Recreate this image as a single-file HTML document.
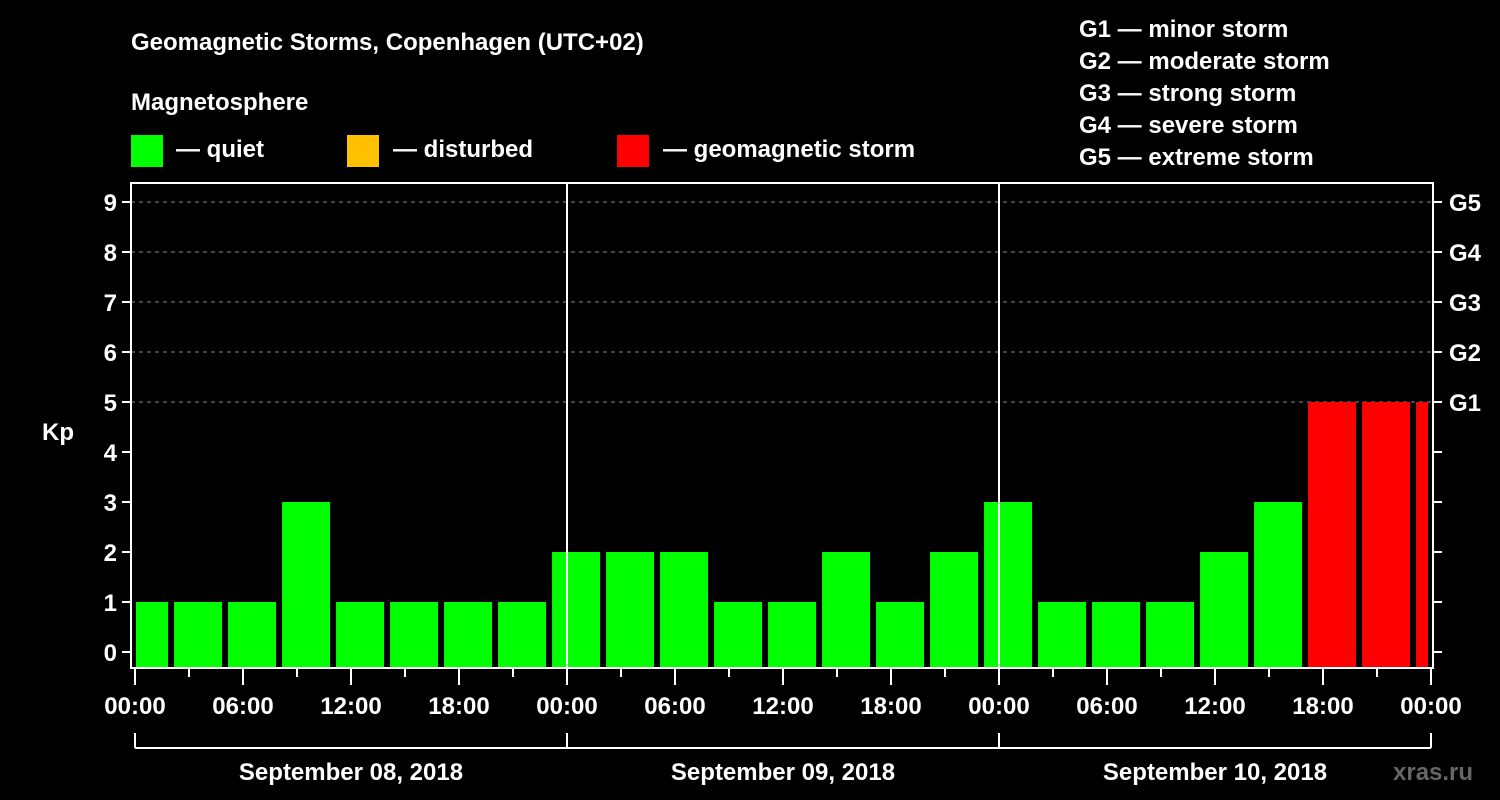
<!DOCTYPE html>
<html><head><meta charset="utf-8"><style>
body{margin:0;background:#000;}
svg{display:block;font-family:"Liberation Sans",sans-serif;font-weight:bold;}
</style></head><body>
<svg id="chart" width="1500" height="800" viewBox="0 0 1500 800">
<rect width="1500" height="800" fill="#000"/>
<text x="131" y="50" fill="#fff" font-size="24">Geomagnetic Storms, Copenhagen (UTC+02)</text>
<text x="131" y="110" fill="#fff" font-size="24">Magnetosphere</text>
<g><rect x="131" y="135" width="32" height="32" fill="#00ff00"/><text x="176" y="157" fill="#fff" font-size="24">— quiet</text></g>
<g><rect x="347" y="135" width="32" height="32" fill="#ffc000"/><text x="393" y="157" fill="#fff" font-size="24">— disturbed</text></g>
<g><rect x="617" y="135" width="32" height="32" fill="#ff0000"/><text x="663" y="157" fill="#fff" font-size="24">— geomagnetic storm</text></g>
<g fill="#fff" font-size="24">
<text x="1079" y="37">G1 — minor storm</text>
<text x="1079" y="69">G2 — moderate storm</text>
<text x="1079" y="101">G3 — strong storm</text>
<text x="1079" y="133">G4 — severe storm</text>
<text x="1079" y="165">G5 — extreme storm</text>
</g>
<text x="42" y="440" fill="#fff" font-size="24">Kp</text>
<text x="1393" y="780" fill="#666" font-size="24">xras.ru</text>
<g id="grid"></g><g id="bars"></g><g id="axes"></g>
</svg>
<script>
const kpValues=[1,1,1,3,1,1,1,1,2,2,2,1,1,2,1,2,3,1,1,1,2,3,5,5,5];
const kpTicks=[0,1,2,3,4,5,6,7,8,9];
const gLabels=["G1","G2","G3","G4","G5"];
const hourLabels=["00:00","06:00","12:00","18:00"];
const dayLabels=["September 08, 2018","September 09, 2018","September 10, 2018"];
const NS="http://www.w3.org/2000/svg";
const X0=135,PX_H=18,L=131,R=1433,T=183,B=668;
const xs=h=>X0+h*PX_H;
const ys=v=>652-v*50;
function mk(tag,attrs,parent,txt){const e=document.createElementNS(NS,tag);for(const k in attrs)e.setAttribute(k,attrs[k]);if(txt!==undefined)e.textContent=txt;document.getElementById(parent).appendChild(e);return e;}
// grid
kpTicks.forEach(v=>{if(v>=5){const g=mk('line',{x1:L,x2:R,y1:ys(v),y2:ys(v),stroke:'#888','stroke-dasharray':'4,4','stroke-width':1},'grid');

}});
// bars
kpValues.forEach((v,i)=>{let x1=xs(i*3-0.83),x2=x1+48;x1=Math.max(x1,L+5);x2=Math.min(x2,R-5);
const c=v>=5?'#ff0000':(v>=4?'#ffc000':'#00ff00');
const b=mk('rect',{x:x1,y:ys(v),width:x2-x1,height:B-1-ys(v),fill:c},'bars');

});
// frame
const f=mk('rect',{x:L,y:T,width:R-L,height:B-T,fill:'none',stroke:'#fff','stroke-width':2},'axes');


[1,2].forEach(d=>{const l=mk('line',{x1:xs(d*24),x2:xs(d*24),y1:T,y2:B,stroke:'#fff','stroke-width':2},'axes');

});
kpTicks.forEach(v=>{const y=ys(v);
mk('line',{x1:L-9,x2:L,y1:y,y2:y,stroke:'#fff','stroke-width':2},'axes');
mk('line',{x1:R,x2:R+9,y1:y,y2:y,stroke:'#fff','stroke-width':2},'axes');
const t=mk('text',{x:L-14,y:y+9,fill:'#fff','font-size':24,'text-anchor':'end'},'axes',String(v));


if(v>=5){const g=mk('text',{x:R+16,y:y+9,fill:'#fff','font-size':24},'axes',gLabels[v-5]);

}});
for(let h=0;h<=72;h+=3){const major=h%6===0;
mk('line',{x1:xs(h),x2:xs(h),y1:B,y2:B+(major?17:9),stroke:'#fff','stroke-width':2},'axes');
if(major){const t=mk('text',{x:xs(h),y:714,fill:'#fff','font-size':24,'text-anchor':'middle'},'axes',hourLabels[(h/6)%4]);

}}
mk('line',{x1:X0,x2:xs(72),y1:748,y2:748,stroke:'#fff','stroke-width':2},'axes');
for(let d=0;d<=3;d++)mk('line',{x1:xs(d*24),x2:xs(d*24),y1:733,y2:748,stroke:'#fff','stroke-width':2},'axes');
dayLabels.forEach((s,d)=>{const t=mk('text',{x:xs(d*24+12),y:780,fill:'#fff','font-size':24,'text-anchor':'middle'},'axes',s);

});
</script>
</body></html>
